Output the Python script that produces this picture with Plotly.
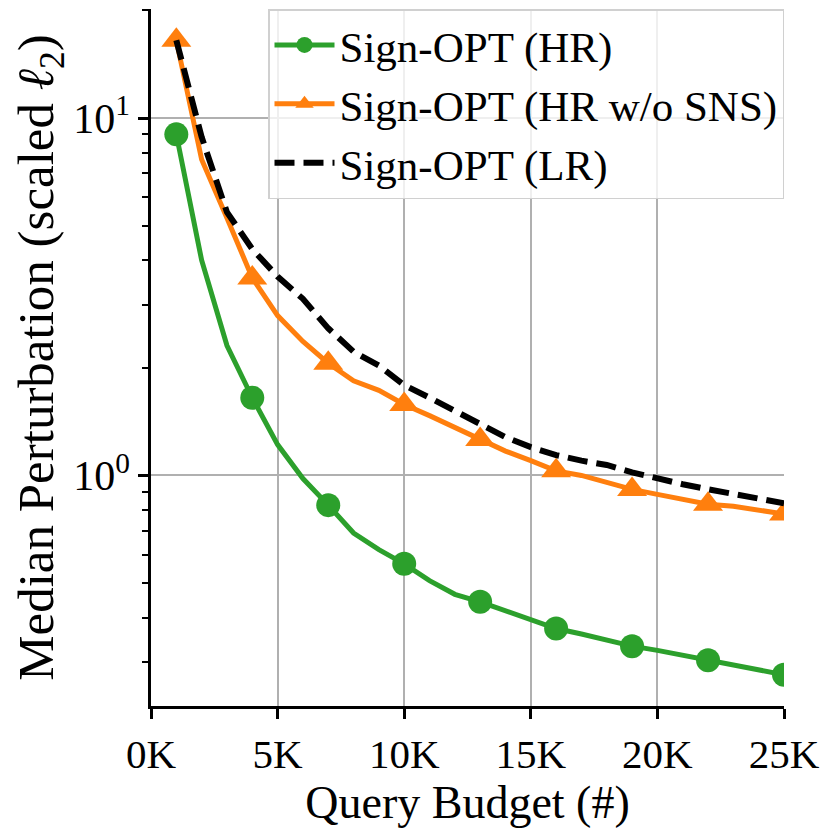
import plotly.graph_objects as go

# query budget (thousands of queries)
budget_k = list(range(1, 26))
budget = [k * 1000 for k in budget_k]

# median perturbation
hr = [9.0, 4.0, 2.31, 1.65, 1.22, 0.98, 0.826, 0.69, 0.62, 0.566,
      0.508, 0.465, 0.443, 0.419, 0.396, 0.373, 0.36, 0.346, 0.333, 0.324,
      0.314, 0.304, 0.294, 0.286, 0.277]
hr_no_sns = [16.5, 7.65, 5.25, 3.57, 2.80, 2.37, 2.06, 1.84, 1.73, 1.58,
             1.47, 1.36, 1.26, 1.17, 1.10, 1.03, 1.0, 0.957, 0.914, 0.885,
             0.857, 0.831, 0.82, 0.80, 0.78]
lr = [16.5, 8.85, 5.45, 4.3, 3.6, 3.12, 2.58, 2.22, 2.03, 1.79,
      1.65, 1.52, 1.39, 1.28, 1.2, 1.14, 1.10, 1.07, 1.02, 0.98,
      0.945, 0.915, 0.885, 0.857, 0.836]

x_ticks = [0, 5000, 10000, 15000, 20000, 25000]
x_labels = ["0K", "5K", "10K", "15K", "20K", "25K"]
y_ticks = [1, 10]
y_labels = ["10<sup>0</sup>", "10<sup>1</sup>"]
y_minor = [0.3, 0.4, 0.5, 0.6, 0.7, 0.8, 0.9, 2, 3, 4, 5, 6, 7, 8, 9, 20]

# a marker every 3K, starting at 1K
marker_idx = list(range(0, 25, 3))

FONT = "Liberation Serif"
GREEN = "#2ca02c"
ORANGE = "#ff7f0e"


def marker_colors(color):
    return [color if i in marker_idx else "rgba(0,0,0,0)" for i in range(len(budget))]


fig = go.Figure()

fig.add_trace(go.Scatter(
    x=budget, y=hr, name="Sign-OPT (HR)",
    mode="lines+markers",
    line=dict(color=GREEN, width=5),
    marker=dict(symbol="circle", size=24, opacity=1,
                color=marker_colors(GREEN), line=dict(width=0)),
))
fig.add_trace(go.Scatter(
    x=budget, y=hr_no_sns, name="Sign-OPT (HR w/o SNS)",
    mode="lines+markers",
    line=dict(color=ORANGE, width=5),
    marker=dict(symbol="triangle-up", size=26, opacity=1,
                color=marker_colors(ORANGE), line=dict(width=0)),
))
fig.add_trace(go.Scatter(
    x=budget, y=lr, name="Sign-OPT (LR)",
    mode="lines",
    line=dict(color="black", width=6, dash="20px,9px"),
))

fig.update_layout(
    width=830, height=830,
    margin=dict(l=143, r=54, t=1, b=132),
    paper_bgcolor="white", plot_bgcolor="white",
    font=dict(family=FONT, size=44, color="black"),
    showlegend=True,
    legend=dict(
        x=1, y=1, xanchor="right", yanchor="top",
        bgcolor="rgba(255,255,255,0.8)",
        bordercolor="#d0d0d0", borderwidth=1.5,
        font=dict(family=FONT, size=43),
        itemwidth=60,
        tracegroupgap=0,
    ),
    xaxis=dict(
        range=[0, 25000],
        tickvals=x_ticks, ticktext=x_labels,
        showgrid=True, gridcolor="#b0b0b0", gridwidth=2,
        showline=True, linecolor="black", linewidth=2.5,
        ticks="outside", ticklen=10, tickwidth=2.5, tickcolor="black",
        tickfont=dict(family=FONT, size=41),
        zeroline=False,
        title=dict(text="Query Budget (#)", font=dict(family=FONT, size=46), standoff=4),
    ),
    yaxis=dict(
        type="log",
        range=[-0.645, 1.305],
        tickvals=y_ticks, ticktext=y_labels,
        showgrid=True, gridcolor="#b0b0b0", gridwidth=2,
        showline=True, linecolor="black", linewidth=2.5,
        ticks="outside", ticklen=10, tickwidth=2.5, tickcolor="black",
        tickfont=dict(family=FONT, size=42),
        minor=dict(tickvals=y_minor, ticks="outside", ticklen=6,
                   tickwidth=2, tickcolor="black", showgrid=False),
        zeroline=False,
        title=dict(text="Median Perturbation (scaled <i>ℓ</i><sub>2</sub>)",
                   font=dict(family=FONT, size=51), standoff=6),
    ),
)

fig.write_html("out.html")
